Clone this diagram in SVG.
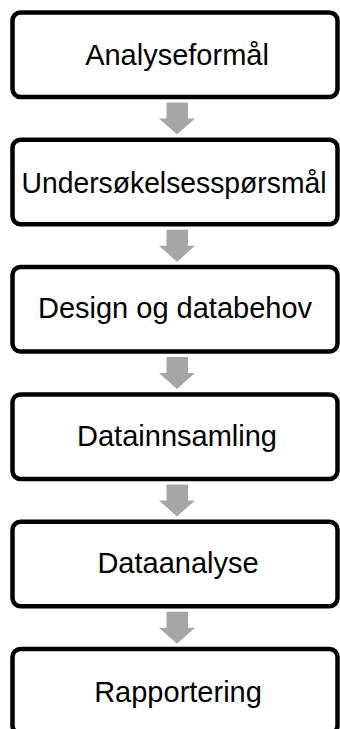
<svg xmlns="http://www.w3.org/2000/svg" width="340" height="729" viewBox="0 0 340 729">
<style>
.box{fill:#fff;stroke:#000;stroke-width:4.5}
.lbl{font-family:"Liberation Sans",Arial,sans-serif;font-size:29px;fill:#000;text-anchor:middle}
.arr{fill:#a6a6a6}
</style>
<rect width="340" height="729" fill="#fff"/>
<g id="connectors">
<path class="arr" d="M166.5,102.5h21.5v16h7l-18,16l-18,-16h7.5z"/>
<path class="arr" transform="translate(0,127.3)" d="M166.5,102.5h21.5v16h7l-18,16l-18,-16h7.5z"/>
<path class="arr" transform="translate(0,254.6)" d="M166.5,102.5h21.5v16h7l-18,16l-18,-16h7.5z"/>
<path class="arr" transform="translate(0,381.9)" d="M166.5,102.5h21.5v16h7l-18,16l-18,-16h7.5z"/>
<path class="arr" transform="translate(0,509.2)" d="M166.5,102.5h21.5v16h7l-18,16l-18,-16h7.5z"/>
</g>
<g id="n1"><rect class="box" x="12.5" y="12.5" width="325" height="84.5" rx="8"/><text class="lbl" x="177" y="65">Analyseformål</text></g>
<g id="n2"><rect class="box" x="12.5" y="139.8" width="325" height="84.5" rx="8"/><text class="lbl" x="174" y="193" textLength="305" lengthAdjust="spacingAndGlyphs">Undersøkelsesspørsmål</text></g>
<g id="n3"><rect class="box" x="12.5" y="267.1" width="325" height="84.5" rx="8"/><text class="lbl" x="175" y="318">Design og databehov</text></g>
<g id="n4"><rect class="box" x="12.5" y="394.4" width="325" height="84.5" rx="8"/><text class="lbl" x="177" y="446">Datainnsamling</text></g>
<g id="n5"><rect class="box" x="12.5" y="521.7" width="325" height="84.5" rx="8"/><text class="lbl" x="178" y="573">Dataanalyse</text></g>
<g id="n6"><rect class="box" x="12.5" y="649" width="325" height="84.5" rx="8"/><text class="lbl" x="178" y="702">Rapportering</text></g>
</svg>
